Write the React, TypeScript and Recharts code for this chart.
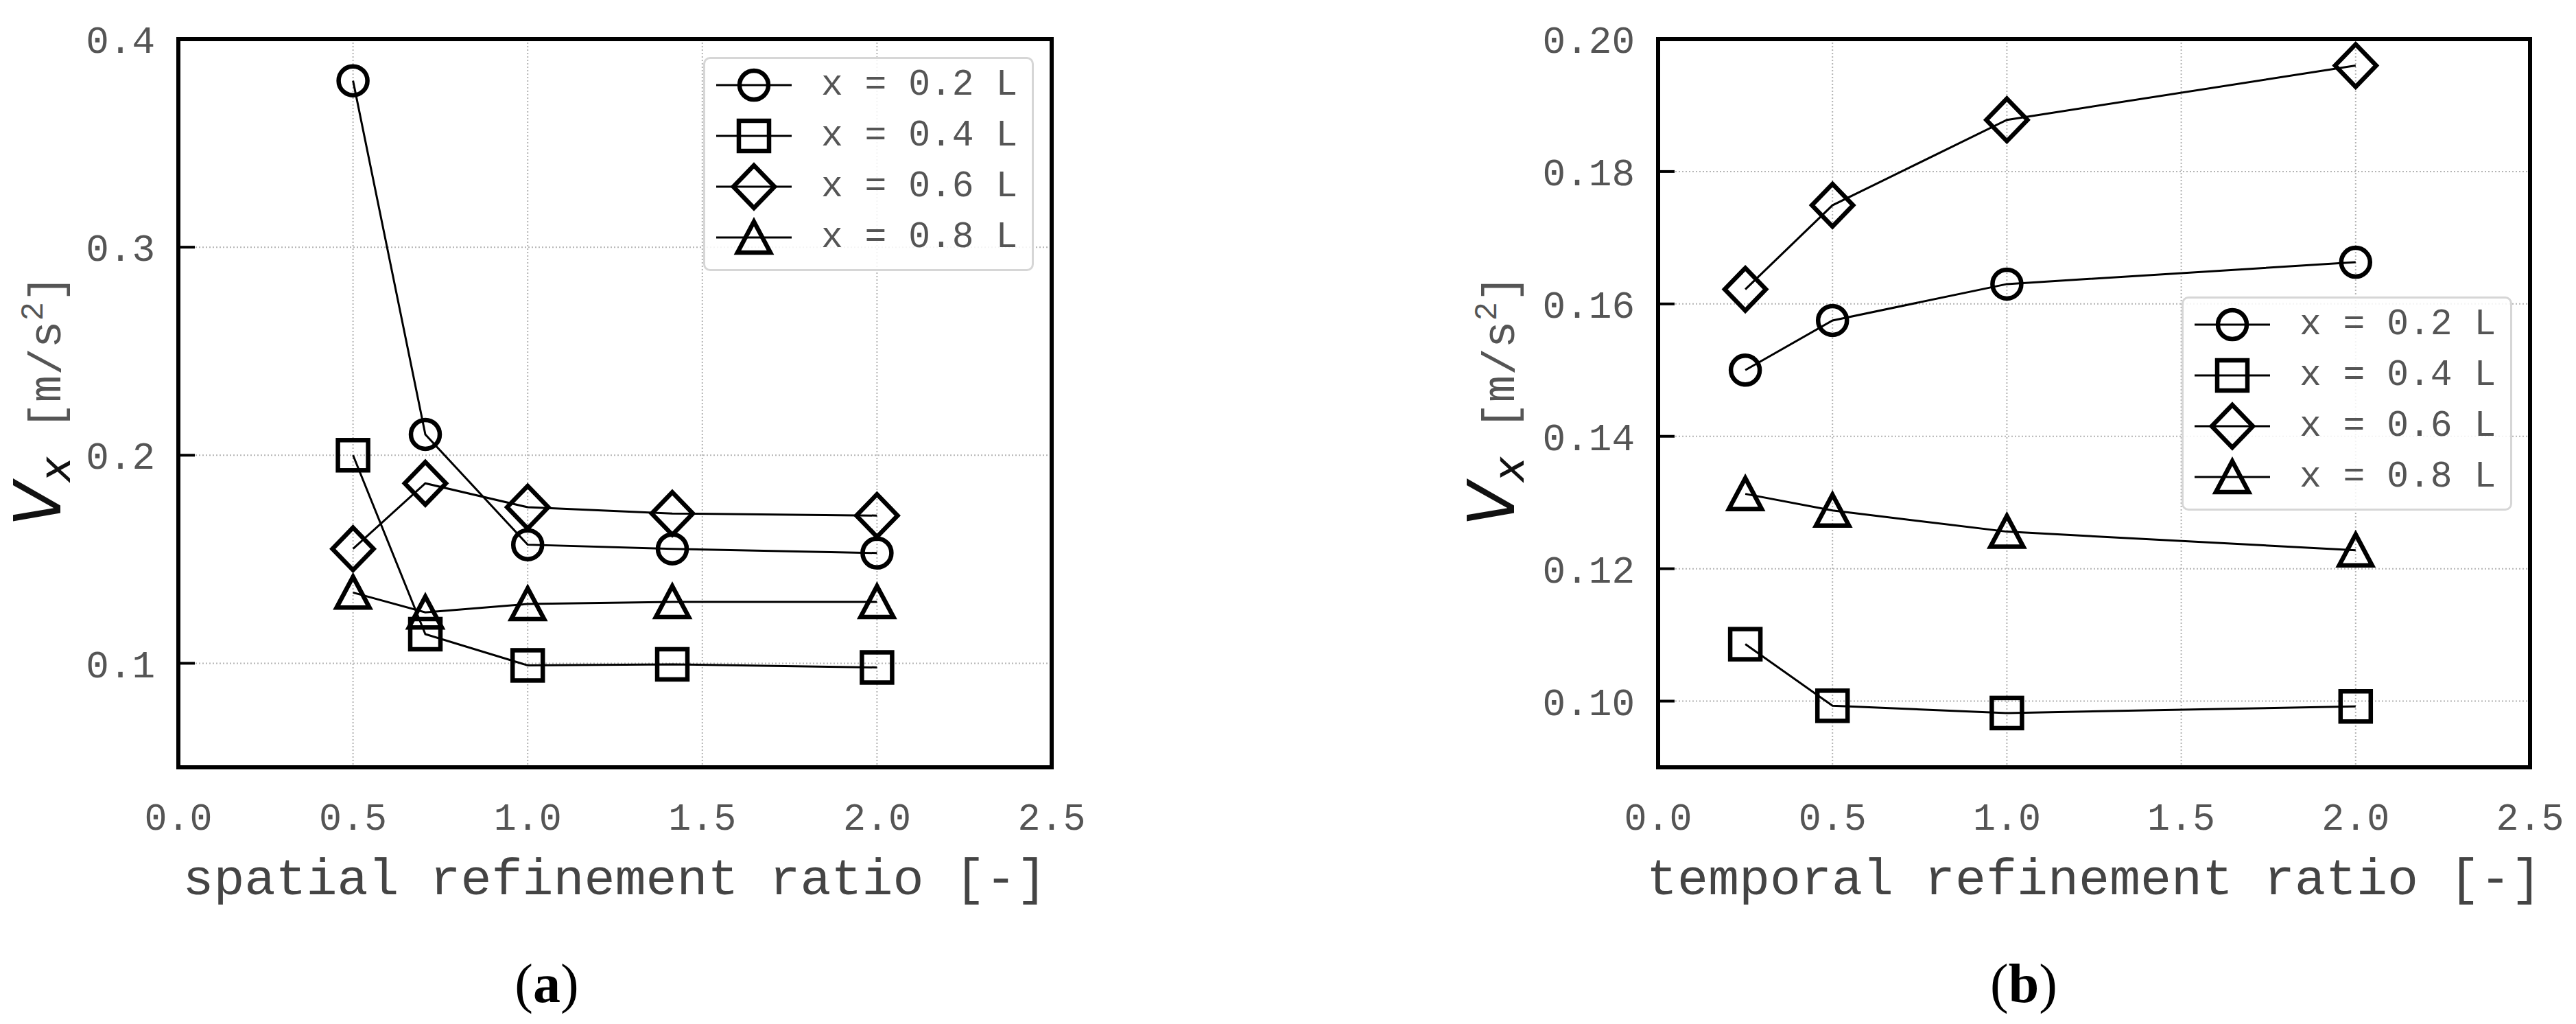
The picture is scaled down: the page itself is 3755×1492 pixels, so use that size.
import React from "react";
import {
  LineChart,
  Line,
  XAxis,
  YAxis,
  CartesianGrid,
  ReferenceArea,
  Legend,
  Label,
} from "recharts";

// (a) spatial refinement study
const spatialRatio = [0.5, 0.707, 1.0, 1.414, 2.0];
const spatialX02 = [0.38, 0.21, 0.157, 0.155, 0.153];
const spatialX04 = [0.2, 0.114, 0.099, 0.0995, 0.098];
const spatialX06 = [0.155, 0.1865, 0.175, 0.172, 0.171];
const spatialX08 = [0.134, 0.1245, 0.1285, 0.1295, 0.1295];

// (b) temporal refinement study
const temporalRatio = [0.25, 0.5, 1.0, 2.0];
const temporalX02 = [0.15, 0.1575, 0.163, 0.1663];
const temporalX04 = [0.1086, 0.0993, 0.0982, 0.0992];
const temporalX06 = [0.1622, 0.1749, 0.1878, 0.196];
const temporalX08 = [0.1313, 0.1288, 0.1256, 0.1228];

const xTicks = [0, 0.5, 1.0, 1.5, 2.0, 2.5];
const spatialYTicks = [0.1, 0.2, 0.3, 0.4];
const temporalYTicks = [0.1, 0.12, 0.14, 0.16, 0.18, 0.2];

const seriesKeys = ["s02", "s04", "s06", "s08"];
const seriesNames = ["x = 0.2 L", "x = 0.4 L", "x = 0.6 L", "x = 0.8 L"];
const seriesShapes = ["circle", "square", "diamond", "triangle"];

const MONO = "'Liberation Mono', 'DejaVu Sans Mono', monospace";
const GREY = "#555";

function buildRows(xs: number[], cols: number[][]) {
  return xs.map((x, i) => {
    const row: Record<string, number> = { x };
    seriesKeys.forEach((k, j) => (row[k] = cols[j][i]));
    return row;
  });
}

const spatialData = buildRows(spatialRatio, [spatialX02, spatialX04, spatialX06, spatialX08]);
const temporalData = buildRows(temporalRatio, [temporalX02, temporalX04, temporalX06, temporalX08]);

function Marker({ shape, cx, cy }: { shape: string; cx: number; cy: number }) {
  const common = { fill: "none", stroke: "#000", strokeWidth: 6.5 };
  if (shape === "circle") return <circle cx={cx} cy={cy} r={21} {...common} />;
  if (shape === "square")
    return <rect x={cx - 22} y={cy - 22} width={44} height={44} {...common} />;
  if (shape === "diamond")
    return (
      <polygon
        points={`${cx},${cy - 31} ${cx + 30},${cy} ${cx},${cy + 31} ${cx - 30},${cy}`}
        {...common}
      />
    );
  return (
    <polygon
      points={`${cx},${cy - 23} ${cx + 24},${cy + 22} ${cx - 24},${cy + 22}`}
      {...common}
    />
  );
}

const LegendBox = () => (
  <div
    style={{
      width: 482,
      height: 312,
      boxSizing: "border-box",
      border: "3px solid #d6d6d6",
      borderRadius: 10,
      background: "rgba(255,255,255,0.85)",
      paddingTop: 1,
    }}
  >
    {seriesNames.map((name, i) => (
      <div key={name} style={{ display: "flex", alignItems: "center", height: 74 }}>
        <svg width={130} height={74} style={{ display: "block" }}>
          <line x1={16} x2={126} y1={37} y2={37} stroke="#000" strokeWidth={3} />
          <Marker shape={seriesShapes[i]} cx={71} cy={37} />
        </svg>
        <span
          style={{
            marginLeft: 39,
            fontFamily: MONO,
            fontSize: 53,
            color: GREY,
            lineHeight: 1,
            whiteSpace: "pre",
          }}
        >
          {name}
        </span>
      </div>
    ))}
  </div>
);

const makeYTick = (digits: number, margin: number) => (props: any) => {
  const { x, y, payload } = props;
  return (
    <g>
      <line x1={x + margin} x2={x + margin + 24} y1={y} y2={y} stroke="#000" strokeWidth={4} />
      <text
        x={x}
        y={y}
        dy="0.36em"
        textAnchor="end"
        fontFamily={MONO}
        fontSize={56}
        fill={GREY}
      >
        {payload.value.toFixed(digits)}
      </text>
    </g>
  );
};

const makeYLabel = (baseX: number) => (props: any) => {
  const vb = props.viewBox;
  const cy = vb.y + vb.height / 2 - 4;
  return (
    <text
      x={baseX}
      y={cy}
      transform={`rotate(-90 ${baseX} ${cy})`}
      textAnchor="middle"
    >
      <tspan fontFamily="'DejaVu Sans', sans-serif" fontStyle="italic" fontSize={94} fill="#111">
        V
      </tspan>
      <tspan fontFamily="'DejaVu Sans', sans-serif" fontStyle="italic" fontSize={62} fill="#111" dy={14}>
        x
      </tspan>
      <tspan fontFamily={MONO} fontSize={66} fill={GREY} dy={-14}>
        {"\u00a0[m/s"}
      </tspan>
      <tspan fontFamily={MONO} fontSize={46} fill={GREY} dy={-26}>
        2
      </tspan>
      <tspan fontFamily={MONO} fontSize={66} fill={GREY} dy={26}>
        ]
      </tspan>
    </text>
  );
};

interface PanelProps {
  data: Record<string, number>[];
  yDomain: [number, number];
  yTicks: number[];
  yDigits: number;
  xLabel: string;
  width: number;
  yAxisWidth: number;
  rightMargin: number;
  yLabelX: number;
  legendLeft: number;
  legendTop: number;
}

function Panel(p: PanelProps) {
  const tickMargin = 34;
  return (
    <LineChart
      width={p.width}
      height={1400}
      data={p.data}
      margin={{ top: 57, right: p.rightMargin, bottom: 82, left: 20 }}
    >
      <CartesianGrid stroke="#b4b4b4" strokeDasharray="2 3" strokeWidth={2} />
      <XAxis
        type="number"
        dataKey="x"
        domain={[0, 2.5]}
        ticks={xTicks}
        interval={0}
        allowDataOverflow
        tickFormatter={(v: number) => v.toFixed(1)}
        axisLine={false}
        tickLine={false}
        tickSize={0}
        tickMargin={52}
        height={200}
        tick={{ fontFamily: MONO, fontSize: 55, fill: GREY }}
        label={{
          value: p.xLabel,
          position: "insideBottom",
          offset: 15,
          fontFamily: MONO,
          fontSize: 75,
          fill: "#444",
        }}
      />
      <YAxis
        type="number"
        domain={p.yDomain}
        ticks={p.yTicks}
        interval={0}
        allowDataOverflow
        width={p.yAxisWidth}
        axisLine={false}
        tickLine={false}
        tickSize={0}
        tickMargin={tickMargin}
        tick={makeYTick(p.yDigits, tickMargin)}
      >
        <Label content={makeYLabel(p.yLabelX)} />
      </YAxis>
      <ReferenceArea
        x1={0}
        x2={2.5}
        y1={p.yDomain[0]}
        y2={p.yDomain[1]}
        fill="none"
        stroke="#000"
        strokeWidth={6}
        ifOverflow="visible"
      />
      {seriesKeys.map((k, i) => (
        <Line
          key={k}
          dataKey={k}
          name={seriesNames[i]}
          type="linear"
          stroke="#000"
          strokeWidth={3}
          isAnimationActive={false}
          dot={(d: any) => (
            <Marker key={`${k}-${d.index}`} shape={seriesShapes[i]} cx={d.cx} cy={d.cy} />
          )}
        />
      ))}
      <Legend
        layout="vertical"
        align="center"
        verticalAlign="middle"
        content={() => <LegendBox />}
        wrapperStyle={{ left: p.legendLeft, top: p.legendTop, width: "auto", height: "auto" }}
      />
    </LineChart>
  );
}

const captionStyle: React.CSSProperties = {
  position: "absolute",
  top: 1433,
  transform: "translate(-50%, -50%)",
  fontFamily: "'Liberation Serif', serif",
  fontSize: 80,
  lineHeight: 1,
  color: "#000",
};

export default function App() {
  return (
    <div
      style={{
        position: "absolute",
        left: 0,
        top: 0,
        width: 3755,
        height: 1492,
        background: "#fff",
        overflow: "hidden",
      }}
    >
      <div style={{ position: "absolute", left: 0, top: 0 }}>
        <Panel
          data={spatialData}
          yDomain={[0.05, 0.4]}
          yTicks={spatialYTicks}
          yDigits={1}
          xLabel="spatial refinement ratio [-]"
          width={1650}
          yAxisWidth={240}
          rightMargin={117}
          yLabelX={88}
          legendLeft={1025}
          legendTop={83}
        />
      </div>
      <div style={{ position: "absolute", left: 2050, top: 0 }}>
        <Panel
          data={temporalData}
          yDomain={[0.09, 0.2]}
          yTicks={temporalYTicks}
          yDigits={2}
          xLabel="temporal refinement ratio [-]"
          width={1700}
          yAxisWidth={347}
          rightMargin={62}
          yLabelX={157}
          legendLeft={1130}
          legendTop={432}
        />
      </div>
      <div style={{ ...captionStyle, left: 797 }}>
        (<b>a</b>)
      </div>
      <div style={{ ...captionStyle, left: 2950 }}>
        (<b>b</b>)
      </div>
    </div>
  );
}
